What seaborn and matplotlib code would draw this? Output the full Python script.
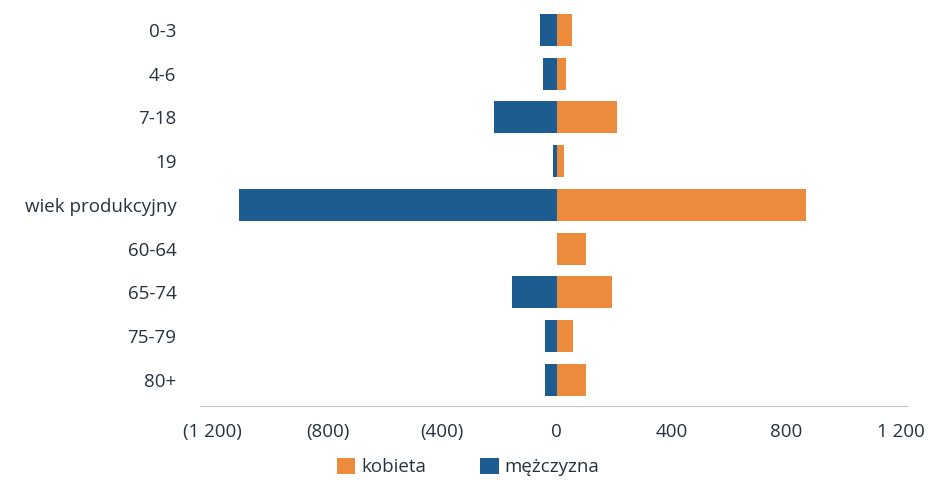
import matplotlib
matplotlib.use("Agg")
import matplotlib.pyplot as plt
import seaborn as sns
import pandas as pd
from matplotlib.ticker import FixedLocator, FuncFormatter
from matplotlib.patches import Patch

categories = ["0-3", "4-6", "7-18", "19", "wiek produkcyjny", "60-64", "65-74", "75-79", "80+"]
kobieta = [52, 31, 209, 24, 870, 102, 191, 56, 102]
mezczyzna = [-60, -47, -221, -15, -1108, 0, -156, -42, -42]
ticks = [-1200, -800, -400, 0, 400, 800, 1200]
series_names = ["kobieta", "mężczyzna"]

ORANGE = "#eb8b3b"
BLUE = "#1d5c91"
TEXT = "#26323d"
FS = 13.5

df = pd.DataFrame({
    "kat": categories * 2,
    "wartosc": kobieta + mezczyzna,
    "plec": [series_names[0]] * len(categories) + [series_names[1]] * len(categories),
})

sns.set_theme(style="white")
plt.rcParams["font.family"] = ["Open Sans", "DejaVu Sans"]

fig = plt.figure(figsize=(9.34, 4.8), dpi=100)
ax = fig.add_axes([200 / 934, 1 - 406 / 480, 708 / 934, 402.25 / 480])

sns.barplot(data=df, x="wartosc", y="kat", hue="plec", order=categories,
            hue_order=series_names, palette=[ORANGE, BLUE], dodge=False,
            width=0.73, orient="h", ax=ax, legend=False, saturation=1,
            linewidth=0, edgecolor="none")

ax.set_xlim(-1245, 1225)
ax.set_ylim(8.6, -0.6)
ax.xaxis.set_major_locator(FixedLocator(ticks))


def fmt(v, pos):
    s = f"{abs(int(round(v))):,}".replace(",", " ")
    return f"({s})" if v < 0 else s


ax.xaxis.set_major_formatter(FuncFormatter(fmt))
ax.set_xlabel("")
ax.set_ylabel("")
for side in ["top", "right", "left"]:
    ax.spines[side].set_visible(False)
ax.spines["bottom"].set_color("#b8b8b8")
ax.spines["bottom"].set_linestyle((0, (1, 1.5)))
ax.spines["bottom"].set_linewidth(0.8)
ax.tick_params(axis="x", length=0, pad=12, labelsize=FS, labelcolor=TEXT)
ax.tick_params(axis="y", length=0, pad=17, labelsize=FS, labelcolor=TEXT)
ax.grid(False)

handles = [Patch(facecolor=ORANGE, edgecolor="none"), Patch(facecolor=BLUE, edgecolor="none")]
fig.legend(handles, series_names, loc="center", bbox_to_anchor=(468 / 934, 1 - 467 / 480),
           ncol=2, frameon=False, fontsize=FS, handlelength=1.0, handleheight=1.0,
           handletextpad=0.3, columnspacing=2.9, labelcolor=TEXT)

fig.savefig("out.png", dpi=100)
